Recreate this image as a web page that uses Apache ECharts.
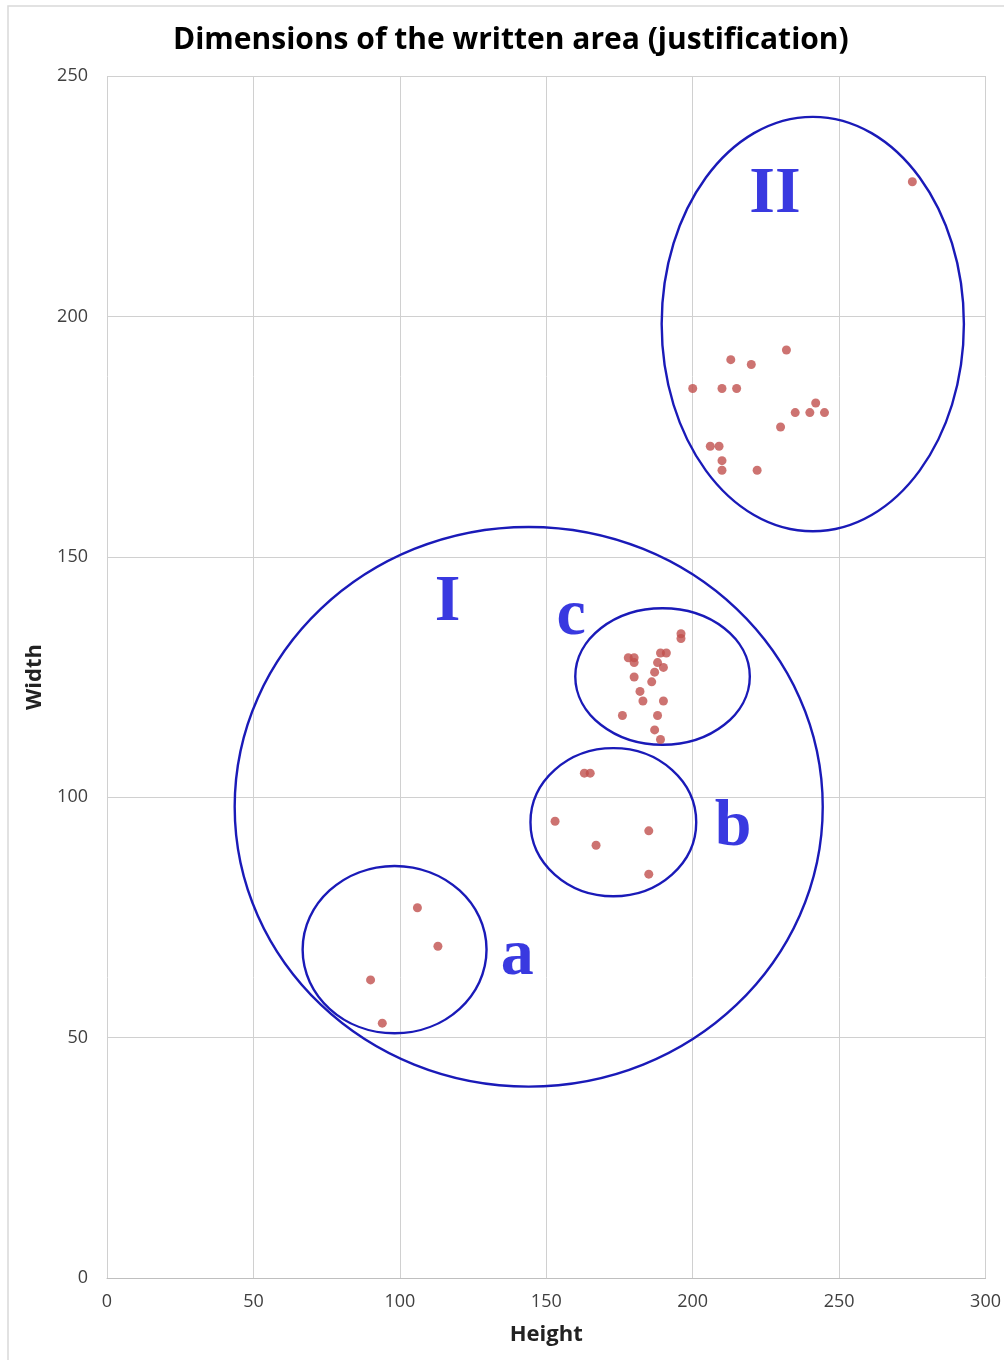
<!DOCTYPE html>
<html>
<head>
<meta charset="utf-8">
<script src="https://cdn.jsdelivr.net/npm/echarts@6/dist/echarts.min.js"></script>
<style>html,body{margin:0;padding:0;background:#fff;}#chart{width:1004px;height:1360px;}</style>
</head>
<body>
<div id="chart"></div>
<script>
// Data: [height, width]
const pointsII = [[275,228],[213,191],[220,190],[232,193],[200,185],[210,185],[215,185],[242,182],[235,180],[240,180],[245,180],[230,177],[206,173],[209,173],[210,170],[210,168],[222,168]];
const pointsC = [[196,134],[196,133],[178,129],[180,129],[180,128],[189,130],[191,130],[188,128],[190,127],[187,126],[180,125],[186,124],[182,122],[183,120],[190,120],[176,117],[188,117],[187,114],[189,112]];
const pointsB = [[163,105],[165,105],[153,95],[185,93],[167,90],[185,84]];
const pointsA = [[106,77],[113,69],[90,62],[94,53]];
// Cluster ellipses: [centerX, centerY, radiusX, radiusY] in data units
const ellipses = [[144,98,100.4,58.2],[241,198.4,51.6,43.1],[189.7,125.1,29.8,14.2],[172.9,94.8,28.3,15.4],[98.2,68.3,31.4,17.4]];
const groupLabels = ['II','I','c','b','a'];
const groupLabelPos = [[228.1,225.2],[116.3,140.4],[158.5,137.5],[213.8,93.6],[140.1,66.8]];
const xTicks = [0,50,100,150,200,250,300];
const yTicks = [0,50,100,150,200,250];

const allPoints = pointsII.concat(pointsC, pointsB, pointsA);
const chart = echarts.init(document.getElementById('chart'));
const labelFont = '"Open Sans", "Liberation Sans", sans-serif';
chart.setOption({
  animation: false,
  backgroundColor: '#fff',
  title: {
    text: 'Dimensions of the written area (justification)',
    left: 168, top: 20,
    textStyle: {fontFamily: '"Open Sans", sans-serif', fontWeight: 'bold', fontSize: 30, color: '#000'}
  },
  graphic: [{type:'rect', shape:{x:8, y:6, width:1100, height:1400}, style:{fill:null, stroke:'#d9d9d9', lineWidth:1.5}, silent:true}],
  grid: {left: 107, right: 16, top: 76, bottom: 82},
  xAxis: {
    type: 'value', min: xTicks[0], max: xTicks[xTicks.length-1], interval: 50,
    name: 'Height', nameLocation: 'middle', nameGap: 46,
    nameTextStyle: {fontFamily: labelFont, fontWeight: 'bold', fontSize: 22, color: '#222'},
    axisLine: {show: true, lineStyle: {color: '#bfbfbf'}},
    axisTick: {show: false},
    axisLabel: {fontFamily: labelFont, fontSize: 18, color: '#404040', margin: 15},
    splitLine: {show: true, lineStyle: {color: '#d0d0d0', width: 1}}
  },
  yAxis: {
    type: 'value', min: yTicks[0], max: yTicks[yTicks.length-1], interval: 50,
    name: 'Width', nameLocation: 'middle', nameGap: 55, nameRotate: 90,
    nameTextStyle: {fontFamily: labelFont, fontWeight: 'bold', fontSize: 22, color: '#222'},
    axisLine: {show: false},
    axisTick: {show: false},
    axisLabel: {fontFamily: labelFont, fontSize: 18, color: '#404040', margin: 19},
    splitLine: {show: true, lineStyle: {color: '#d0d0d0', width: 1}}
  },
  series: [
    {
      type: 'custom', silent: true, z: 3,
      data: ellipses,
      encode: {x: 0, y: 1},
      renderItem: function (params, api) {
        const c = api.coord([api.value(0), api.value(1)]);
        const s = api.size([api.value(2), api.value(3)]);
        return {type: 'ellipse', shape: {cx: c[0], cy: c[1], rx: s[0], ry: s[1]},
          style: {fill: null, stroke: '#1a1ab8', lineWidth: 2.4}};
      }
    },
    {
      type: 'scatter', z: 4, symbol: 'circle', symbolSize: 9,
      itemStyle: {color: '#c0504d'},
      data: allPoints
    },
    {
      type: 'scatter', z: 5, symbolSize: 0, silent: true,
      data: groupLabels.map((n, i) => ({name: n, value: groupLabelPos[i]})),
      label: {show: true, position: 'inside', formatter: '{b}',
        fontFamily: '"Liberation Serif", "DejaVu Serif", serif', fontWeight: 'bold', fontSize: 66, color: '#0808d8'}
    }
  ]
});
</script>
</body>
</html>
